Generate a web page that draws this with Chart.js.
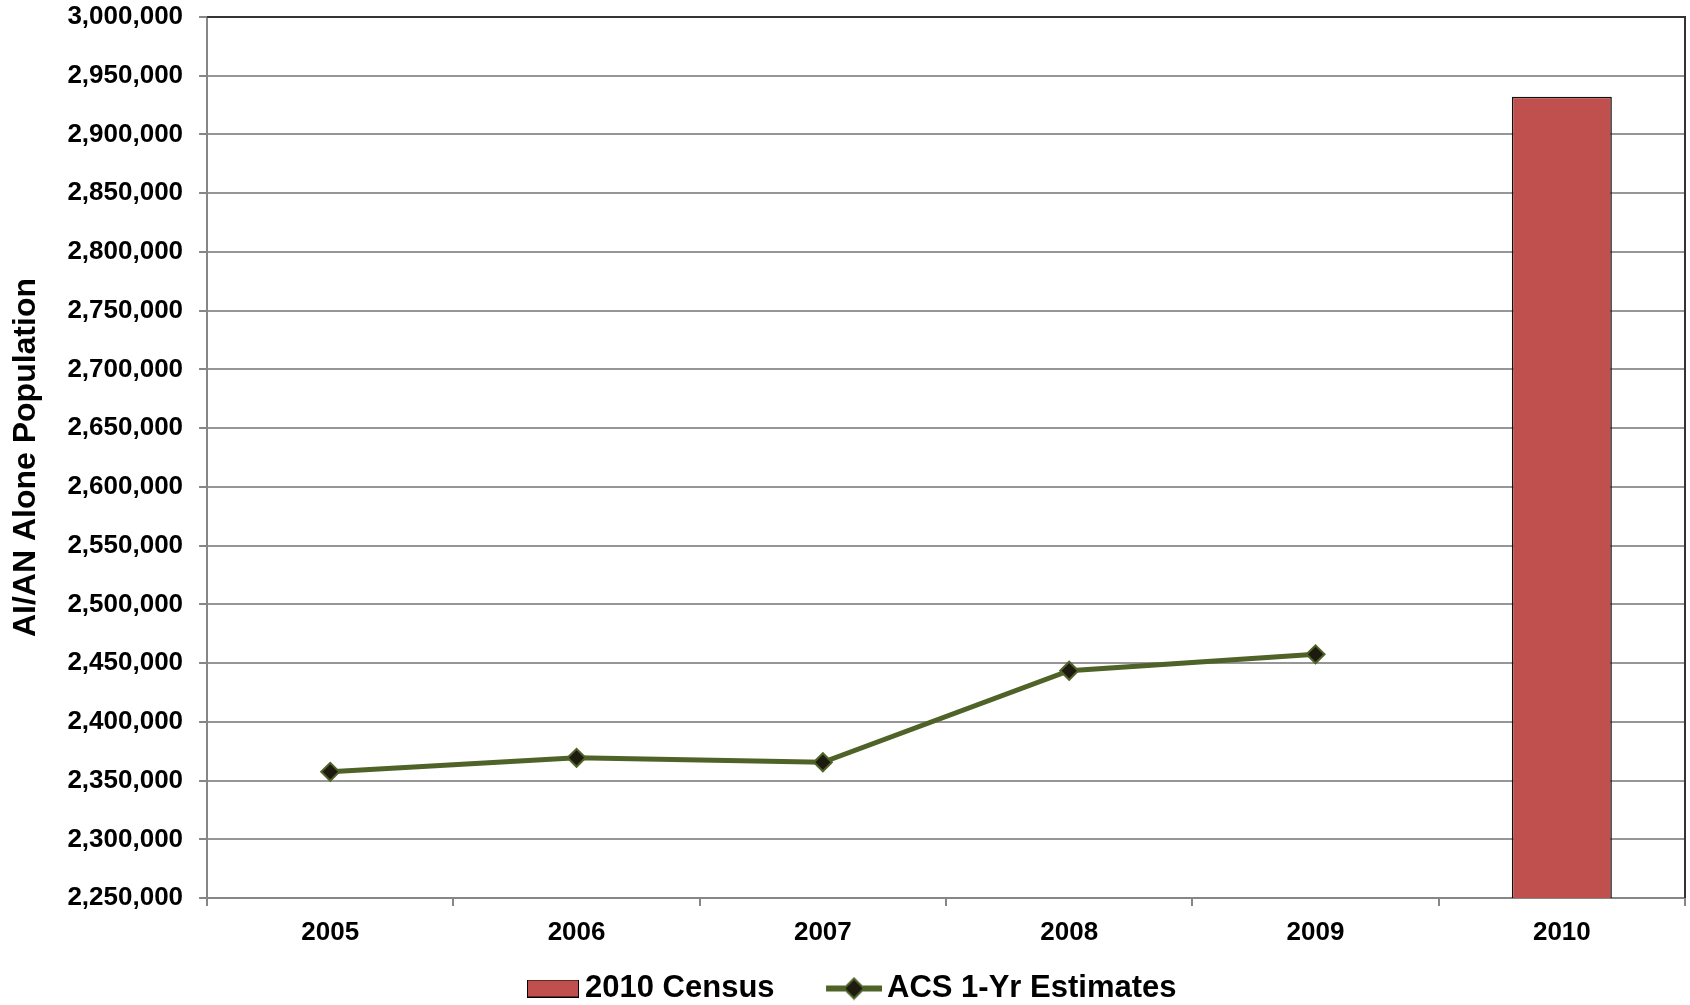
<!DOCTYPE html>
<html>
<head>
<meta charset="utf-8">
<title>AI/AN Alone Population</title>
<script src="https://cdn.jsdelivr.net/npm/chart.js@4.4.0/dist/chart.umd.min.js"></script>
<style>
  html, body { margin: 0; padding: 0; background: #ffffff; }
  canvas { display: block; }
</style>
</head>
<body>
<canvas id="chart" width="1690" height="1005"></canvas>
<script>
// Survey years on the category axis
const years = ['2005', '2006', '2007', '2008', '2009', '2010'];

// Decennial count (only 2010) and the ACS 1-year estimates (2005-2009)
const census2010 = [null, null, null, null, null, 2932200];
const acsOneYear = [2357500, 2369400, 2365600, 2443500, 2457500, null];

// Value axis range and tick spacing
const yMin = 2250000;
const yMax = 3000000;
const yStep = 50000;

const FONT = '"Liberation Sans", Arial, Helvetica, sans-serif';
const CENSUS_RED = '#c0504d';
const ACS_OLIVE = '#4f6228';
const MARKER_FILL = '#1d1b10';

// Legend geometry: width reserved for each swatch and the label font size
const LEGEND_FS = 31;
const LEGEND_W = 83;

// Builds a legend swatch canvas; the visible swatch sits flush right so it
// ends just before the label text.
function makeSwatch(gap, height, swatchWidth, paint) {
  const half = LEGEND_W / 2 + LEGEND_FS / 2 - gap;
  const c = document.createElement('canvas');
  c.width = Math.round(half * 2);
  c.height = height;
  const ctx = c.getContext('2d');
  paint(ctx, c.width - swatchWidth, c.width, height);
  return c;
}

const censusSwatch = makeSwatch(6, 18, 52, (ctx, x0, x1, h) => {
  ctx.fillStyle = CENSUS_RED;
  ctx.fillRect(x0 + 0.5, 0.5, x1 - x0 - 1, h - 1);
  ctx.strokeStyle = '#000000';
  ctx.lineWidth = 1;
  ctx.strokeRect(x0 + 0.5, 0.5, x1 - x0 - 1, h - 1);
});

const acsSwatch = makeSwatch(5, 24, 56, (ctx, x0, x1, h) => {
  const cy = h / 2;
  ctx.strokeStyle = ACS_OLIVE;
  ctx.lineWidth = 6;
  ctx.beginPath();
  ctx.moveTo(x0, cy);
  ctx.lineTo(x1, cy);
  ctx.stroke();
  const cx = (x0 + x1) / 2;
  const r = 10;
  ctx.beginPath();
  ctx.moveTo(cx, cy - r);
  ctx.lineTo(cx + r, cy);
  ctx.lineTo(cx, cy + r);
  ctx.lineTo(cx - r, cy);
  ctx.closePath();
  ctx.fillStyle = MARKER_FILL;
  ctx.fill();
  ctx.lineWidth = 2;
  ctx.strokeStyle = ACS_OLIVE;
  ctx.stroke();
});

// Dark frame along the top and right edges of the plot area
const plotFrame = {
  id: 'plotFrame',
  afterDraw(chart) {
    const { ctx, chartArea: a } = chart;
    ctx.save();
    ctx.strokeStyle = '#333333';
    ctx.lineWidth = 2;
    ctx.beginPath();
    ctx.moveTo(a.left, a.top);
    ctx.lineTo(a.right, a.top);
    ctx.lineTo(a.right, a.bottom);
    ctx.stroke();
    ctx.restore();
  }
};

Chart.defaults.font.family = FONT;
Chart.defaults.color = '#000000';

new Chart(document.getElementById('chart'), {
  data: {
    labels: years,
    datasets: [
      {
        type: 'bar',
        label: '2010 Census',
        data: census2010,
        backgroundColor: CENSUS_RED,
        borderColor: '#111111',
        borderWidth: 1.5,
        categoryPercentage: 1,
        barPercentage: 0.406
      },
      {
        type: 'line',
        label: 'ACS 1-Yr Estimates',
        data: acsOneYear,
        borderColor: ACS_OLIVE,
        borderWidth: 5,
        tension: 0,
        pointStyle: 'rectRot',
        pointRadius: 9,
        pointBackgroundColor: MARKER_FILL,
        pointBorderColor: ACS_OLIVE,
        pointBorderWidth: 2,
        spanGaps: false
      }
    ]
  },
  options: {
    responsive: false,
    devicePixelRatio: 1,
    animation: false,
    events: [],
    layout: {
      autoPadding: false,
      padding: { left: -22, right: 5, top: 17, bottom: -9 }
    },
    scales: {
      x: {
        type: 'category',
        offset: true,
        grid: {
          offset: true,
          drawOnChartArea: false,
          drawTicks: true,
          tickLength: 8,
          color: '#868686',
          lineWidth: 2
        },
        border: { color: '#868686', width: 2 },
        ticks: {
          font: { size: 26, weight: 'bold', lineHeight: 1.92 },
          color: '#000000',
          padding: 1.5
        }
      },
      y: {
        min: yMin,
        max: yMax,
        grid: {
          color: '#969696',
          lineWidth: 2,
          tickLength: 8,
          tickColor: '#868686'
        },
        border: { color: '#868686', width: 2 },
        ticks: {
          stepSize: yStep,
          autoSkip: false,
          font: { size: 26, weight: 'bold', lineHeight: 0.05 },
          color: '#000000',
          padding: 16,
          callback: (v) => Number(v).toLocaleString('en-US')
        },
        title: {
          display: true,
          text: 'AI/AN Alone Population',
          font: { size: 32, weight: 'bold' },
          color: '#000000',
          padding: { top: 28.8, bottom: 6.2 }
        }
      }
    },
    plugins: {
      tooltip: { enabled: false },
      legend: {
        display: true,
        position: 'bottom',
        labels: {
          usePointStyle: true,
          pointStyleWidth: LEGEND_W,
          padding: 14,
          color: '#000000',
          font: { size: LEGEND_FS, weight: 'bold' },
          generateLabels(chart) {
            const items = Chart.defaults.plugins.legend.labels.generateLabels(chart);
            items.forEach((item) => {
              item.pointStyle = item.datasetIndex === 0 ? censusSwatch : acsSwatch;
            });
            return items;
          }
        }
      }
    }
  },
  plugins: [plotFrame]
});
</script>
</body>
</html>
